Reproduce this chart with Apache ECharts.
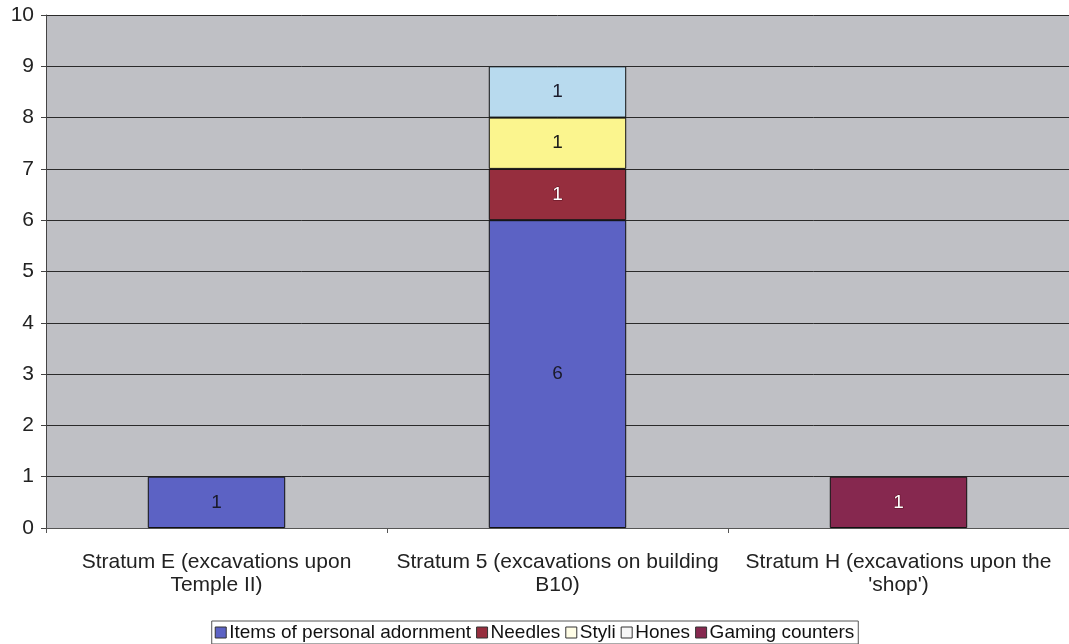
<!DOCTYPE html>
<html>
<head>
<meta charset="utf-8">
<script src="https://cdn.jsdelivr.net/npm/echarts@6/dist/echarts.min.js"></script>
<style>
html,body{margin:0;padding:0;background:#fff;}
#c{width:1069px;height:644px;}
</style>
</head>
<body>
<div id="c"></div>
<script>
const categories = [
  "Stratum E (excavations upon\nTemple II)",
  "Stratum 5 (excavations on building\nB10)",
  "Stratum H (excavations upon the\n'shop')"
];
const seriesNames = ["Items of personal adornment", "Needles", "Styli", "Hones", "Gaming counters"];
const itemsOfPersonalAdornment = [1, 6, null];
const needles = [null, 1, null];
const styli = [null, 1, null];
const hones = [null, 1, null];
const gamingCounters = [null, null, 1];
const yTicks = [0, 1, 2, 3, 4, 5, 6, 7, 8, 9, 10];

const colors = ["#5c62c4", "#962e3e", "#fbf58e", "#b8daee", "#86284f"];
const legendColors = ["#5c62c4", "#962e3e", "#fffde6", "#f6f6f6", "#86284f"];
const labelColors = ["#1a1a2a", "#fff", "#1a1a1a", "#1a1a2a", "#fff"];
const dataSets = [itemsOfPersonalAdornment, needles, styli, hones, gamingCounters];

const chart = echarts.init(document.getElementById('c'), null, {renderer: 'canvas'});
const FONT = "'Liberation Sans', Arial, sans-serif";

chart.setOption({
  animation: false,
  backgroundColor: '#ffffff',
  grid: {left: 46, right: -6, top: 15, bottom: 116, backgroundColor: '#bfc0c5', show: true, borderWidth: 0},
  legend: {
    bottom: 0,
    left: 'center',
    icon: 'rect',
    itemWidth: 11,
    itemHeight: 11,
    itemGap: 5,
    borderColor: '#555',
    borderWidth: 1,
    padding: [2, 4, 2, 3],
    textStyle: {fontFamily: FONT, fontSize: 19, color: '#111', padding: [0, 0, 0, -2]},
    data: seriesNames.map((n, i) => ({name: n, itemStyle: {color: legendColors[i], borderColor: '#333', borderWidth: 1}}))
  },
  xAxis: {
    type: 'category',
    data: categories,
    axisLine: {show: true, lineStyle: {color: '#555', width: 1}},
    axisTick: {show: true, length: 5, lineStyle: {color: '#555'}},
    axisLabel: {fontFamily: FONT, fontSize: 21, color: '#222', lineHeight: 23, margin: 23, interval: 0}
  },
  yAxis: {
    type: 'value',
    min: 0, max: 10, interval: 1,
    axisLine: {show: true, lineStyle: {color: '#444', width: 1}},
    axisTick: {show: true, length: 5, lineStyle: {color: '#444'}},
    axisLabel: {fontFamily: FONT, fontSize: 21, color: '#222', margin: 12,
      formatter: v => yTicks.includes(v) ? String(v) : ''},
    splitLine: {show: true, lineStyle: {color: '#2a2a2a', width: 1}}
  },
  series: seriesNames.map((name, i) => ({
    name: name,
    type: 'bar',
    stack: 'total',
    barWidth: '40.3%',
    data: dataSets[i],
    itemStyle: {color: colors[i], borderColor: '#111', borderWidth: 1},
    label: {
      show: true, position: 'inside', fontFamily: FONT, fontSize: 19,
      color: labelColors[i],
      textBorderColor: labelColors[i] === '#fff' ? '#5a1020' : 'transparent',
      textBorderWidth: labelColors[i] === '#fff' ? 1 : 0
    }
  }))
});
</script>
</body>
</html>
